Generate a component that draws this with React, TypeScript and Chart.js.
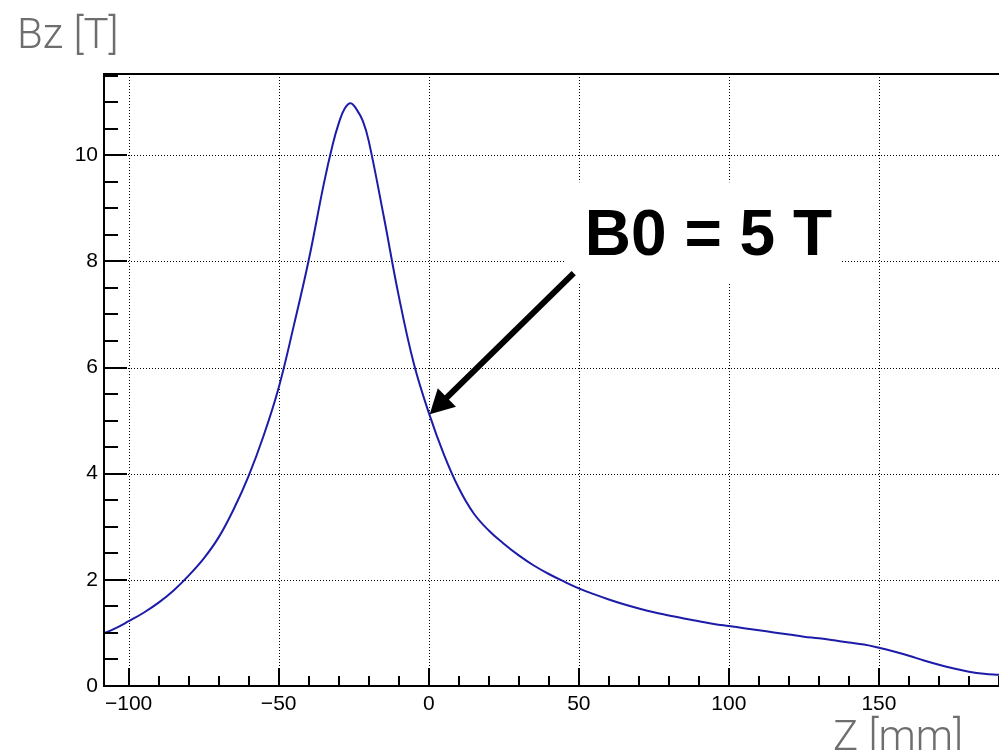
import React, { useEffect, useRef } from "react";
import { Chart, registerables } from "chart.js";

Chart.register(...registerables);

// ---- data ----
const zValues = [
  -108, -105, -100, -95, -90, -85, -80, -75, -70, -65, -60, -55, -50, -45, -40, -35, -32, -30, -28, -26, -24, -22,
  -20, -15, -10, -5, 0, 5, 10, 15, 20, 25, 30, 35, 40, 45, 50, 55, 60, 65, 70, 75, 80, 85, 90, 95,
  100, 105, 110, 115, 120, 125, 130, 135, 140, 145, 150, 155, 160, 165, 170, 175, 180, 185, 190,
];
const bzValues = [
  1.0, 1.07, 1.22, 1.38, 1.57, 1.8, 2.08, 2.4, 2.8, 3.33, 3.96, 4.72, 5.62, 6.78, 8.02, 9.45, 10.2, 10.6, 10.88, 10.98, 10.86, 10.65,
  10.27, 8.85, 7.35, 6.08, 5.15, 4.37, 3.73, 3.25, 2.93, 2.68, 2.46, 2.27, 2.11, 1.97, 1.84, 1.73, 1.63, 1.54, 1.46, 1.39, 1.33, 1.27, 1.22, 1.17,
  1.13, 1.09, 1.05, 1.01, 0.97, 0.93, 0.9, 0.86, 0.82, 0.78, 0.72, 0.65, 0.57, 0.48, 0.4, 0.33, 0.27, 0.23, 0.21,
];
const xMajorTicks = [-100, -50, 0, 50, 100, 150];
const xMinorTicks = [-100, -90, -80, -70, -60, -50, -40, -30, -20, -10, 0, 10, 20, 30, 40, 50, 60, 70, 80, 90, 100, 110, 120, 130, 140, 150, 160, 170, 180, 190];
const yMajorTicks = [0, 2, 4, 6, 8, 10];
const yMinorTicks = [0, 0.5, 1, 1.5, 2, 2.5, 3, 3.5, 4, 4.5, 5, 5.5, 6, 6.5, 7, 7.5, 8, 8.5, 9, 9.5, 10, 10.5, 11, 11.5];
const xRange = [-108.2, 190];
const yRange = [0, 11.53];
const yTitle = "Bz [T]";
const xTitle = "Z [mm]";
const noteText = "B0 = 5 T";
const notePos = [52, 8.12]; // text left/baseline in data units
const noteBox = [45.7, 137.7, 7.61, 9.49]; // x0, x1, y0, y1 in data units
const arrowFrom = [48.3, 7.78];
const arrowTo = [0.33, 5.12];

const TICK_FONT = { family: "'Liberation Sans', Arial, Helvetica, sans-serif", size: 21 };

const fmt = (v: number) => (v < 0 ? "\u2212" + Math.abs(v) : String(v));

const framePlugin = {
  id: "rootFrame",
  beforeDatasetsDraw(chart: any) {
    const { ctx, chartArea: a, scales } = chart;
    const xs = scales.x;
    const ys = scales.y;
    ctx.save();
    ctx.strokeStyle = "#000";
    ctx.lineWidth = 1;
    ctx.setLineDash([1, 2]);
    xMajorTicks.forEach((v) => {
      const px = Math.round(xs.getPixelForValue(v)) + 0.5;
      ctx.beginPath();
      ctx.moveTo(px, a.top);
      ctx.lineTo(px, a.bottom);
      ctx.stroke();
    });
    yMajorTicks.forEach((v) => {
      if (v === 0) return;
      const py = Math.round(ys.getPixelForValue(v)) + 0.5;
      ctx.beginPath();
      ctx.moveTo(a.left, py);
      ctx.lineTo(a.right, py);
      ctx.stroke();
    });
    ctx.restore();
  },
  afterDatasetsDraw(chart: any) {
    const { ctx, chartArea: a, scales } = chart;
    const xs = scales.x;
    const ys = scales.y;
    ctx.save();
    ctx.strokeStyle = "#000";
    ctx.setLineDash([]);
    ctx.lineWidth = 2;
    ctx.beginPath();
    ctx.moveTo(a.right, a.top);
    ctx.lineTo(a.left, a.top);
    ctx.lineTo(a.left, a.bottom);
    ctx.lineTo(a.right, a.bottom);
    ctx.stroke();
    xMinorTicks.forEach((v) => {
      const px = Math.round(xs.getPixelForValue(v));
      const len = xMajorTicks.includes(v) ? 18 : 10;
      ctx.beginPath();
      ctx.moveTo(px, a.bottom);
      ctx.lineTo(px, a.bottom - len);
      ctx.stroke();
    });
    yMinorTicks.forEach((v) => {
      const py = Math.round(ys.getPixelForValue(v));
      const len = yMajorTicks.includes(v) ? 23 : 14;
      ctx.beginPath();
      ctx.moveTo(a.left, py);
      ctx.lineTo(a.left + len, py);
      ctx.stroke();
    });
    ctx.restore();
  },
  afterDraw(chart: any) {
    const { ctx, scales } = chart;
    const xs = scales.x;
    const ys = scales.y;
    ctx.save();
    ctx.fillStyle = "#6e6e6e";
    ctx.font = "300 42px Roboto, 'Liberation Sans', sans-serif";
    ctx.textBaseline = "alphabetic";
    ctx.textAlign = "left";
    ctx.fillText(yTitle, 17, 48);
    ctx.fillText(xTitle, 833, 750);
    const bx0 = xs.getPixelForValue(noteBox[0]);
    const bx1 = xs.getPixelForValue(noteBox[1]);
    const by0 = ys.getPixelForValue(noteBox[3]);
    const by1 = ys.getPixelForValue(noteBox[2]);
    ctx.fillStyle = "#fff";
    ctx.fillRect(bx0, by0, bx1 - bx0, by1 - by0);
    ctx.fillStyle = "#000";
    ctx.font = "bold 64px 'Liberation Sans', Arial, Helvetica, sans-serif";
    ctx.fillText(noteText, xs.getPixelForValue(notePos[0]), ys.getPixelForValue(notePos[1]));
    const x0 = xs.getPixelForValue(arrowFrom[0]);
    const y0 = ys.getPixelForValue(arrowFrom[1]);
    const x1 = xs.getPixelForValue(arrowTo[0]);
    const y1 = ys.getPixelForValue(arrowTo[1]);
    const dx = x1 - x0;
    const dy = y1 - y0;
    const L = Math.hypot(dx, dy);
    const ux = dx / L;
    const uy = dy / L;
    const headLen = 24;
    const headHalf = 13;
    const bxm = x1 - ux * headLen;
    const bym = y1 - uy * headLen;
    ctx.strokeStyle = "#000";
    ctx.lineWidth = 6;
    ctx.lineCap = "butt";
    ctx.beginPath();
    ctx.moveTo(x0, y0);
    ctx.lineTo(bxm + ux * 2, bym + uy * 2);
    ctx.stroke();
    ctx.beginPath();
    ctx.moveTo(x1, y1);
    ctx.lineTo(bxm - uy * headHalf, bym + ux * headHalf);
    ctx.lineTo(bxm + uy * headHalf, bym - ux * headHalf);
    ctx.closePath();
    ctx.fill();
    ctx.restore();
  },
};

export default function App() {
  const ref = useRef<HTMLCanvasElement | null>(null);
  useEffect(() => {
    if (!ref.current) return;
    const chart = new Chart(ref.current, {
      type: "line",
      data: {
        datasets: [
          {
            data: zValues.map((z, i) => ({ x: z, y: bzValues[i] })),
            borderColor: "#1c1ca8",
            borderWidth: 2,
            pointRadius: 0,
            tension: 0.4,
            fill: false,
          },
        ],
      },
      options: {
        animation: false,
        responsive: false,
        devicePixelRatio: 1,
        layout: { padding: { top: 74, right: 0, left: 0, bottom: 0 } },
        plugins: { legend: { display: false }, tooltip: { enabled: false }, title: { display: false } },
        scales: {
          x: {
            type: "linear",
            min: xRange[0],
            max: xRange[1],
            afterBuildTicks: (s: any) => {
              s.ticks = xMajorTicks.map((v) => ({ value: v }));
            },
            afterFit: (s: any) => {
              s.height = 64;
            },
            grid: { display: false, drawTicks: false },
            border: { display: false },
            ticks: {
              callback: (v: any) => fmt(Number(v)),
              font: TICK_FONT,
              color: "#000",
              padding: 6,
              maxRotation: 0,
              autoSkip: false,
            },
          },
          y: {
            type: "linear",
            min: yRange[0],
            max: yRange[1],
            afterBuildTicks: (s: any) => {
              s.ticks = yMajorTicks.map((v) => ({ value: v }));
            },
            afterFit: (s: any) => {
              s.width = 104;
            },
            grid: { display: false, drawTicks: false },
            border: { display: false },
            ticks: {
              callback: (v: any) => fmt(Number(v)),
              font: TICK_FONT,
              color: "#000",
              padding: 6,
              autoSkip: false,
            },
          },
        },
      },
      plugins: [framePlugin],
    } as any);
    return () => chart.destroy();
  }, []);
  return (
    <div style={{ position: "absolute", left: 0, top: 0, width: 999, height: 750, background: "#fff", overflow: "hidden" }}>
      <canvas ref={ref} width={999} height={750} style={{ display: "block" }} />
    </div>
  );
}
